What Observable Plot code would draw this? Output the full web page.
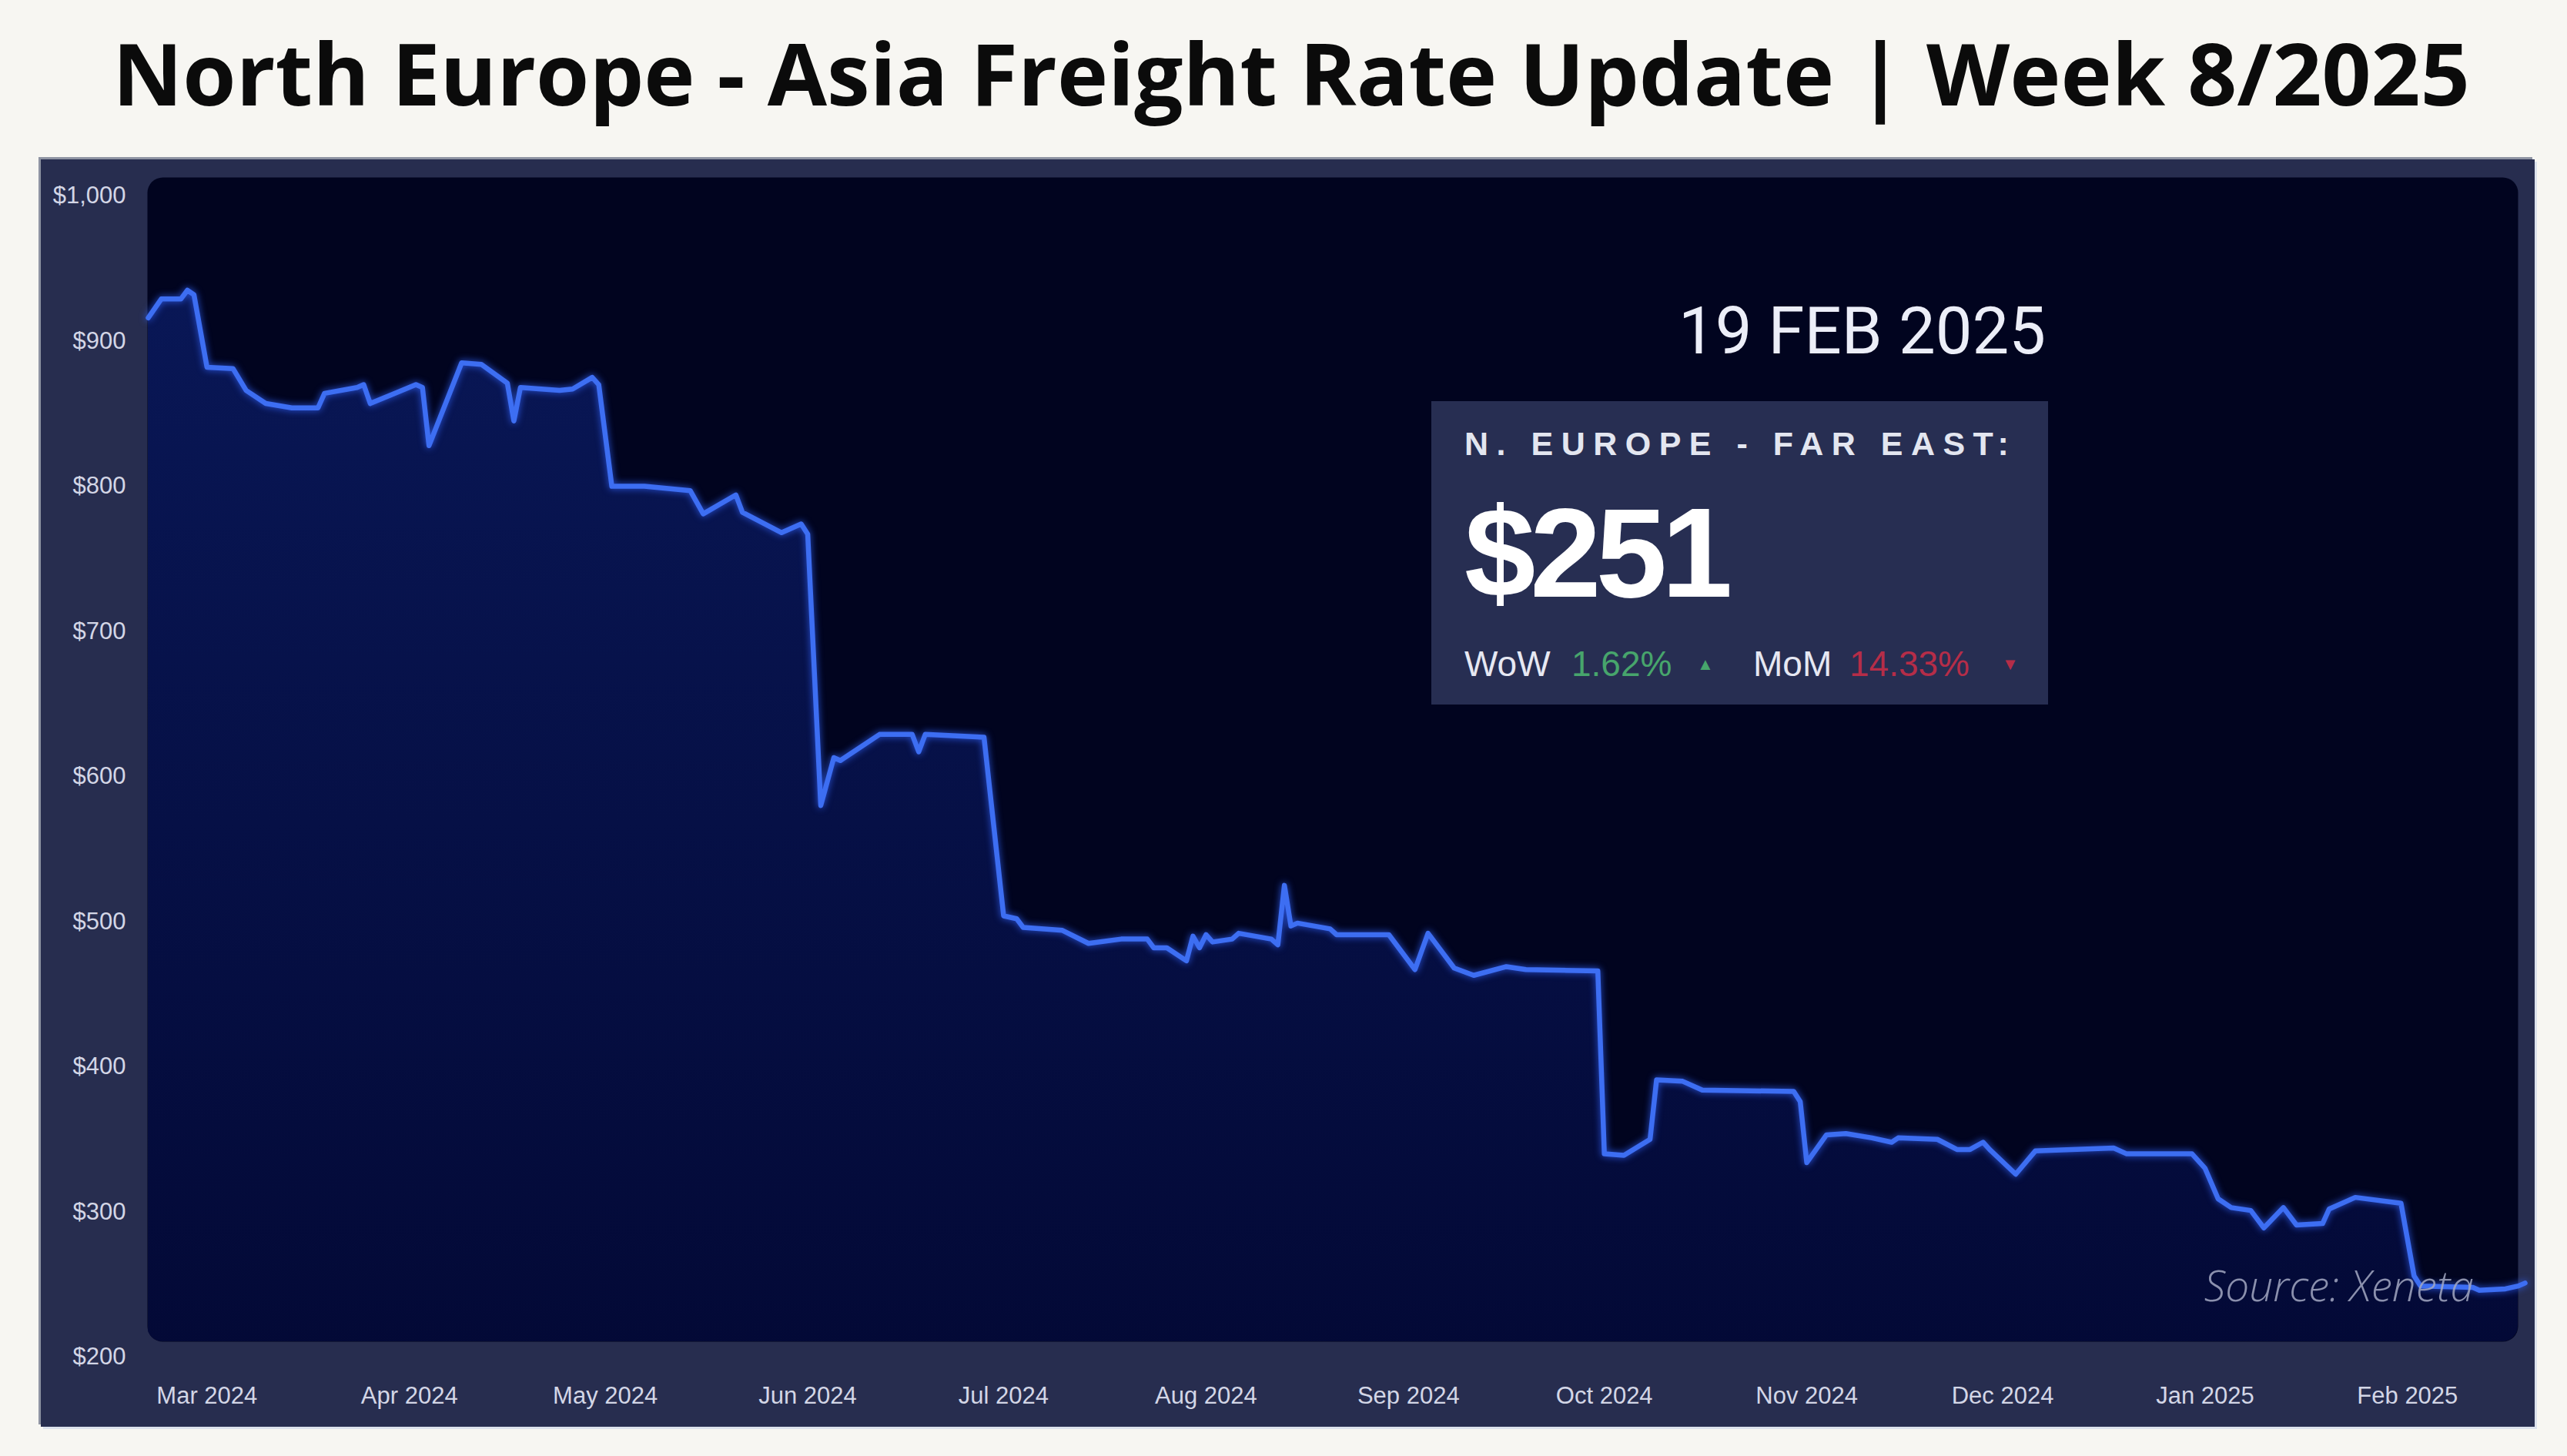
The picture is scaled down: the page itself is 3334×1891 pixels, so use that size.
<!DOCTYPE html>
<html>
<head>
<meta charset="utf-8">
<script src="https://cdn.jsdelivr.net/npm/d3@7"></script>
<script src="https://cdn.jsdelivr.net/npm/@observablehq/plot@0.6"></script>
<style>
  html, body { margin: 0; padding: 0; background: #f7f6f2; }
  #page { position: relative; width: 3334px; height: 1891px; overflow: hidden; background: #f7f6f2; }
  #title { position: absolute; left: 10px; top: 38px; width: 3334px; margin: 0; text-align: center;
           font-family: "Open Sans", "DejaVu Sans", sans-serif; font-weight: 700; font-size: 112px;
           line-height: 1; color: #0b0b0b; white-space: nowrap; }
  #panel { position: absolute; left: 53px; top: 207px; width: 3239px; height: 1646px; background: #272d4f;
           box-shadow: -3px -3px 0 #8e93a2, 3px 3px 0 #dce2ed; }
  #panel svg { position: absolute; left: 0; top: 0; }
  #overlay { position: absolute; left: 0; top: 0; pointer-events: none; }
</style>
</head>
<body>
<div id="page">
  <h1 id="title">North Europe - Asia Freight Rate Update | Week 8/2025</h1>
  <div id="panel"></div>
</div>
<script>
// ---- data ----
const dates = [
  "2024-02-21","2024-02-23","2024-02-26","2024-02-27","2024-02-28",
  "2024-03-01","2024-03-05","2024-03-07","2024-03-10","2024-03-14","2024-03-18","2024-03-19",
  "2024-03-24","2024-03-25","2024-03-26","2024-04-02","2024-04-03","2024-04-04","2024-04-09",
  "2024-04-12","2024-04-16","2024-04-17","2024-04-18","2024-04-24","2024-04-26","2024-04-29",
  "2024-04-30","2024-05-02","2024-05-07","2024-05-14","2024-05-16","2024-05-21","2024-05-22",
  "2024-05-28","2024-05-31","2024-06-01","2024-06-03","2024-06-05","2024-06-06","2024-06-12",
  "2024-06-17","2024-06-18","2024-06-19","2024-06-28","2024-07-01","2024-07-03","2024-07-04",
  "2024-07-10","2024-07-14","2024-07-19","2024-07-23","2024-07-24","2024-07-26","2024-07-29",
  "2024-07-30","2024-07-31","2024-08-01","2024-08-02","2024-08-05","2024-08-06","2024-08-11",
  "2024-08-12","2024-08-13","2024-08-14","2024-08-15","2024-08-20","2024-08-21","2024-08-29",
  "2024-09-02","2024-09-04","2024-09-08","2024-09-11","2024-09-16","2024-09-19","2024-09-30",
  "2024-10-01","2024-10-04","2024-10-08","2024-10-09","2024-10-13","2024-10-16","2024-10-30",
  "2024-10-31","2024-11-01","2024-11-04","2024-11-07","2024-11-11","2024-11-14","2024-11-15",
  "2024-11-21","2024-11-24","2024-11-26","2024-11-28","2024-11-29","2024-12-03","2024-12-06",
  "2024-12-18","2024-12-20","2024-12-30","2025-01-01","2025-01-03","2025-01-05","2025-01-08",
  "2025-01-10","2025-01-13","2025-01-15","2025-01-19","2025-01-20","2025-01-24","2025-01-31",
  "2025-02-02","2025-02-03","2025-02-11","2025-02-12","2025-02-16","2025-02-18","2025-02-19"
];
const rates = [
  916, 929, 929, 935, 932,
  882, 881, 866, 857, 854, 854, 864,
  868, 870, 857, 870, 868, 828, 885,
  884, 871, 845, 868, 866, 867, 875,
  870, 800, 800, 797, 781, 794, 782,
  768, 774, 767, 580, 613, 611, 629,
  629, 617, 629, 627, 504, 502, 496,
  494, 485, 488, 488, 482, 482, 473,
  490, 482, 491, 486, 488, 492, 488,
  484, 525, 497, 499, 495, 491, 491,
  467, 492, 468, 463, 469, 467, 466,
  340, 339, 350, 391, 390, 384, 383,
  376, 334, 353, 354, 351, 348, 351,
  350, 343, 343, 348, 343, 326, 342,
  344, 340, 340, 330, 309, 303, 301,
  289, 303, 291, 292, 302, 310, 306,
  256, 249, 248, 246, 247, 249, 251
];
const monthTicks = ["2024-03-01","2024-04-01","2024-05-01","2024-06-01","2024-07-01","2024-08-01",
                    "2024-09-01","2024-10-01","2024-11-01","2024-12-01","2025-01-01","2025-02-01"];
const yTicks = [200, 300, 400, 500, 600, 700, 800, 900, 1000];
const xDomain = ["2024-02-21", "2025-02-19"];
const yDomain = [200, 1000];

const routeLabel = "N. EUROPE - FAR EAST:";
const dateLabel = "19 FEB 2025";
const currentRate = "$251";
const wowChange = "1.62%";
const momChange = "14.33%";
const sourceNote = "Source: Xeneta";

// ---- build chart ----
const parse = s => new Date(s + "T00:00:00Z");
const series = dates.map((d, i) => ({date: parse(d), rate: rates[i]}));

function defsMark() {
  const defs = d3.create("svg:defs");
  const g = defs.append("linearGradient").attr("id", "areaGrad")
    .attr("x1", 0).attr("y1", 0).attr("x2", 0).attr("y2", 1);
  g.append("stop").attr("offset", "0%").attr("stop-color", "#091756");
  g.append("stop").attr("offset", "100%").attr("stop-color", "#030936");
  return defs.node();
}

const W = 3239, H = 1646;
const chart = Plot.plot({
  width: W, height: H,
  marginLeft: 138, marginRight: 22, marginTop: 23, marginBottom: 111,
  style: {background: "transparent", color: "#d3d6e6", fontFamily: "'Liberation Sans', Arial, sans-serif", fontSize: "31px", overflow: "visible"},
  x: {type: "utc", domain: xDomain.map(parse), range: [139, 3226]},
  y: {domain: yDomain, range: [1555, 47]},
  marks: [
    Plot.frame({fill: "#01041f", stroke: "none", rx: 20}),
    defsMark,
    Plot.areaY(series, {x: "date", y1: yDomain[0], y2: "rate", fill: "url(#areaGrad)", clip: "frame"}),
    Plot.lineY(series, {x: "date", y: "rate", stroke: "#3d6ef2", strokeWidth: 6.5, strokeLinejoin: "round", strokeLinecap: "round"}),
    Plot.axisY({ticks: yTicks, tickSize: 0, tickPadding: 28, tickFormat: d => "$" + d3.format(",")(d), label: null}),
    Plot.axisX({ticks: monthTicks.map(parse), tickSize: 0, tickPadding: 58, tickFormat: d3.utcFormat("%b %Y"), label: null})
  ]
});
d3.select(chart).selectAll("clipPath rect").attr("rx", 20).attr("ry", 20);
d3.select(chart).selectAll('g[aria-label="line"] path')
  .style("filter", "drop-shadow(0 0 5px rgba(50,100,255,0.85))");
document.getElementById("panel").appendChild(chart);

// ---- annotations overlay ----
const ov = d3.select("#page").append("svg").attr("id", "overlay")
  .attr("width", 3334).attr("height", 1891);
ov.append("text").attr("x", 2657).attr("y", 459).attr("text-anchor", "end")
  .attr("font-family", "Roboto, sans-serif").attr("font-weight", 400).attr("font-size", 85)
  .attr("fill", "#eceef8").text(dateLabel);
ov.append("rect").attr("x", 1859).attr("y", 521).attr("width", 801).attr("height", 394).attr("fill", "#272e52");
ov.append("text").attr("x", 1902).attr("y", 591)
  .attr("font-family", "'Liberation Sans', Arial, sans-serif").attr("font-weight", 700).attr("font-size", 43)
  .attr("letter-spacing", "10.5px").attr("fill", "#e3e6f0").text(routeLabel);
ov.append("text").attr("x", 1902).attr("y", 775)
  .attr("font-family", "'Liberation Sans', Arial, sans-serif").attr("font-weight", 700).attr("font-size", 166)
  .attr("letter-spacing", "-7px").attr("fill", "#ffffff").text(currentRate);
const rowFont = "'Liberation Sans', Arial, sans-serif";
const row = [
  {x: 1902, t: "WoW", c: "#e6e8f2", s: 46, y: 878},
  {x: 2041, t: wowChange, c: "#47a56c", s: 46, y: 878},
  {x: 2204, t: "▲", c: "#47a56c", s: 22, y: 870},
  {x: 2277, t: "MoM", c: "#e6e8f2", s: 46, y: 878},
  {x: 2402, t: momChange, c: "#b52d48", s: 46, y: 878},
  {x: 2600, t: "▼", c: "#b52d48", s: 22, y: 870}
];
row.forEach(r => ov.append("text").attr("x", r.x).attr("y", r.y).attr("font-family", rowFont)
  .attr("font-size", r.s).attr("fill", r.c).text(r.t));
ov.append("text").attr("x", 3213).attr("y", 1690).attr("text-anchor", "end")
  .attr("font-family", "'Open Sans', sans-serif").attr("font-style", "italic").attr("font-weight", 300)
  .attr("font-size", 55).attr("fill", "#a3a8c2").attr("opacity", 0.85).text(sourceNote);
</script>
</body>
</html>
